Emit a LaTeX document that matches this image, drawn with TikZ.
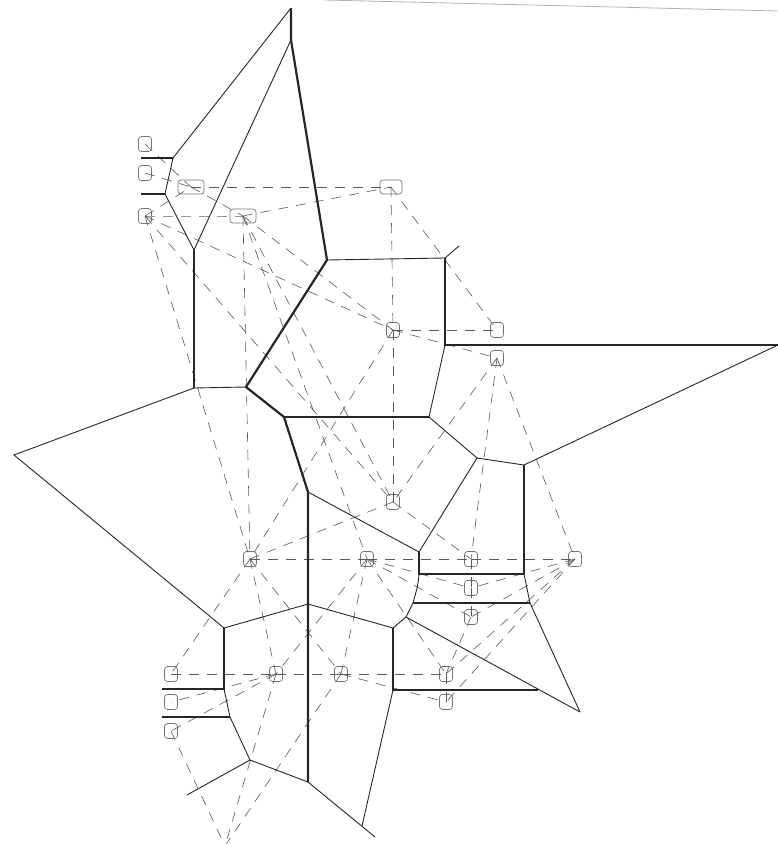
\documentclass[tikz,border=0pt]{standalone}
\begin{document}
\begin{tikzpicture}[x=1pt,y=-1pt,
  site/.style={draw=black!55,line width=0.7pt,rounded corners=3pt,minimum width=13pt,minimum height=15pt,inner sep=0pt},
  wsite/.style={site,minimum width=26pt,minimum height=14pt},
  vthin/.style={draw=black!85,line width=0.9pt},
  vthick/.style={draw=black!85,line width=2.2pt},
  dl/.style={draw=black!65,line width=0.6pt,dash pattern=on 10pt off 8pt},
  dlg/.style={draw=black!40,line width=1pt,dash pattern=on 10pt off 8pt}]
\useasboundingbox (0,0) rectangle (778,844);
% sites
\node[site] (s1) at (145,144) {};
\node[site] (s2) at (145,173) {};
\node[site] (s3) at (145,216) {};
\node[wsite] (s4) at (191,187) {};
\node[wsite] (s5) at (243,216) {};
\node[site,minimum width=22pt,minimum height=14pt] (s6) at (391,187) {};
\node[site] (s7) at (393,330) {};
\node[site] (s8) at (497,330) {};
\node[site] (s9) at (497,358) {};
\node[site] (s10) at (393,502) {};
\node[site] (s11) at (250,559) {};
\node[site] (s12) at (367,559) {};
\node[site] (s13) at (471,559) {};
\node[site] (s14) at (575,559) {};
\node[site] (s15) at (471,588) {};
\node[site] (s16) at (471,617) {};
\node[site] (s17) at (171,674) {};
\node[site] (s18) at (276,674) {};
\node[site] (s19) at (341,674) {};
\node[site] (s20) at (446,674) {};
\node[site] (s21) at (171,702) {};
\node[site] (s22) at (171,731) {};
\node[site] (s23) at (446,702) {};
\coordinate (b) at (225,846);
% Voronoi vertices
\coordinate (v1) at (291,8);
\coordinate (v2) at (291,40);
\coordinate (v3) at (173,158);
\coordinate (v4) at (165,194);
\coordinate (v5) at (194,250);
\coordinate (v6) at (194,388);
\coordinate (v7) at (246,387);
\coordinate (v8) at (14,455);
\coordinate (v9) at (327,260);
\coordinate (v10) at (445,258);
\coordinate (v11) at (459,246);
\coordinate (v12) at (445,345);
\coordinate (v13) at (778,345);
\coordinate (v14) at (429,417);
\coordinate (v15) at (284,417);
\coordinate (v16) at (477,458);
\coordinate (v17) at (524,465);
\coordinate (v18) at (308,492);
\coordinate (v19) at (419,552);
\coordinate (v20) at (419,574);
\coordinate (v21) at (524,574);
\coordinate (v22) at (413,603);
\coordinate (v23) at (530,603);
\coordinate (v24) at (580,712);
\coordinate (v25) at (406,617);
\coordinate (v26) at (393,628);
\coordinate (v27) at (393,690);
\coordinate (v28) at (538,690);
\coordinate (v29) at (308,604);
\coordinate (v30) at (224,628);
\coordinate (v31) at (224,689);
\coordinate (v32) at (230,717);
\coordinate (v33) at (250,760);
\coordinate (v34) at (187,795);
\coordinate (v35) at (308,782);
\coordinate (v36) at (375,837);
\coordinate (v37) at (362,826);
\coordinate (l1) at (141,158);
\coordinate (l2) at (141,194);
\coordinate (l3) at (162,689);
\coordinate (l4) at (162,717);
\coordinate (g1) at (325,0);
\coordinate (g2) at (778,11);
% dashed Delaunay edges
\draw[dlg] (s3.center) -- (s5.center);
\foreach \a/\c in {s4/s6,s5/s6,s6/s7,s6/s8,s7/s8,s7/s9,s3/s7,s5/s7,s7/s10,s7/s11,
  s9/s10,s9/s13,s9/s14,s3/s11,s3/s10,s5/s11,s5/s10,s5/s12,s10/s11,s10/s13,
  s11/s12,s12/s13,s13/s14,s12/s15,s12/s16,s12/s20,s12/s19,s12/s18,s11/s18,s11/s19,
  s11/s17,s17/s18,s18/s19,s19/s20,s18/s21,s18/s22,s19/s23,s20/s23,s14/s20,s14/s23,
  s14/s15,s14/s16,s16/s20,s13/s15,s15/s16,s1/s4,s2/s4,s3/s4,s4/s5,s22/b,s18/b,s19/b}
  \draw[dl] (\a.center) -- (\c.center);
% faint top line
\draw[draw=black!30,line width=0.8pt] (g1) -- (g2);
% Voronoi edges
\draw[vthin] (v1) -- (v3) -- (v4) -- (v5);
\draw[vthin] (v2) -- (v5);
\draw[vthick] (v1) -- (v2) -- (v9) -- (v7) -- (v15) -- (v18) -- (v35);
\draw[vthick] (l1) -- (v3);
\draw[vthick] (l2) -- (v4);
\draw[draw=black!85,line width=1.6pt] (v5) -- (v6);
\draw[vthin] (v6) -- (v7);
\draw[vthin] (v6) -- (v8) -- (v30);
\draw[vthin] (v9) -- (v10) -- (v11);
\draw[vthick] (v10) -- (v12) -- (v13);
\draw[vthin] (v12) -- (v14);
\draw[draw=black!85,line width=1.6pt] (v15) -- (v14);
\draw[vthin] (v14) -- (v16) -- (v17) -- (v13);
\draw[vthick] (v17) -- (v21);
\draw[vthin] (v16) -- (v19);
\draw[vthin] (v18) -- (v19);
\draw[vthick] (v19) -- (v20) -- (v21);
\draw[vthin] (v20) .. controls (418,585) .. (v22);
\draw[vthick] (v22) -- (v23);
\draw[vthin] (v21) -- (v23) -- (v24);
\draw[vthin] (v22) -- (v25) -- (v26);
\draw[vthin] (v25) -- (v24);
\draw[vthick] (v26) -- (v27) -- (v28);
\draw[vthin] (v30) -- (v29) -- (v26);
\draw[vthick] (l3) -- (v31) -- (v30);
\draw[vthin] (v31) -- (v32);
\draw[vthick] (l4) -- (v32);
\draw[vthin] (v32) -- (v33) -- (v34);
\draw[vthin] (v33) -- (v35) -- (v36);
\draw[vthin] (v27) -- (v37);
\end{tikzpicture}
\end{document}
